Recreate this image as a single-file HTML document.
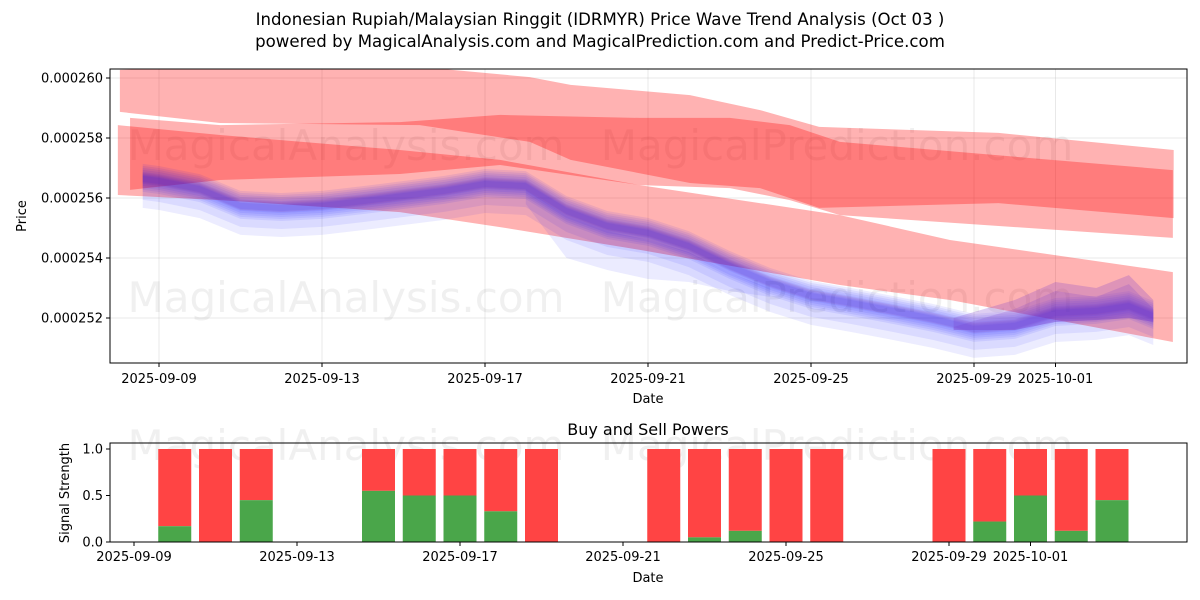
<!DOCTYPE html>
<html><head><meta charset="utf-8"><style>
body{margin:0;background:#fff;}
svg{display:block;font-family:"DejaVu Sans","Liberation Sans",sans-serif;}
</style></head><body>
<svg id="chart" width="1200" height="600" viewBox="0 0 1200 600" xmlns="http://www.w3.org/2000/svg">
<defs>
<clipPath id="clipTop"><rect x="110" y="69" width="1077" height="294"/></clipPath>
<clipPath id="clipBot"><rect x="110" y="443" width="1077" height="99"/></clipPath>
</defs>
<text x="600" y="25" text-anchor="middle" font-size="16.6">Indonesian Rupiah/Malaysian Ringgit (IDRMYR) Price Wave Trend Analysis (Oct 03 )</text>
<text x="600" y="47" text-anchor="middle" font-size="16.6">powered by MagicalAnalysis.com and MagicalPrediction.com and Predict-Price.com</text>
<g id="topPanel"></g>
<g id="botPanel"></g>
</svg>
<script>
const NS="http://www.w3.org/2000/svg";
const r1Days=[-0.96,1.5,6.4,9.1,10.1,13.03,14.75,16.2,20.6,24.9];
const r1Upper=[260.27,260.37,260.37,260.03,259.77,259.43,258.93,258.37,258.17,257.6];
const r1Lower=[258.87,258.5,258.43,257.87,257.27,256.5,256.33,255.67,255.83,255.33];
const r2Days=[-0.71,1.5,5.91,8.37,11.8,14.01,15.48,16.71,24.88];
const r2Upper=[258.67,258.43,258.53,258.77,258.67,258.67,258.43,257.87,256.93];
const r2Lower=[256.27,256.6,256.8,257.1,256.43,256.33,255.93,255.43,254.67];
const r3Days=[-1.01,1.5,5.91,8.37,11.8,16.71,19.41,24.88];
const r3Upper=[258.43,258.1,257.6,257.27,256.43,255.43,254.6,253.53];
const r3Lower=[256.1,255.93,255.53,255.03,254.27,253.1,252.6,251.2];
const blueDays=[-0.4,0,1,2,3,4,5,6,7,8,9,10,11,12,13,14,15,16,17,18,19,20,21,22,23,23.8,24.4];
const blueCenter=[256.67,256.6,256.33,255.77,255.7,255.77,255.93,256.1,256.27,256.5,256.43,255.6,255.1,254.87,254.43,253.77,253.2,252.77,252.53,252.27,252.0,251.67,251.77,252.2,252.27,252.43,252.1];
const lobeDays=[9,10,11,12,13,14,15];
const lobeUpper=[256.3,255.4,254.9,254.6,254.2,253.5,253.0];
const lobeLower=[255.8,254.0,253.6,253.3,253.2,252.9,252.7];
const bumpDays=[19.5,21,22,23,23.8,24.4];
const bumpUpper=[252.0,252.6,253.2,253.0,253.43,252.6];
const bumpLower=[251.6,251.6,251.87,251.93,252.0,251.87];
const priceTicks=[252,254,256,258,260];
const priceTickLabels=["0.000252","0.000254","0.000256","0.000258","0.000260"];
const dateTicks=[0,4,8,12,16,20,22];
const dateTickLabels=["2025-09-09","2025-09-13","2025-09-17","2025-09-21","2025-09-25","2025-09-29","2025-10-01"];
const barDays=[1,2,3,6,7,8,9,10,13,14,15,16,17,20,21,22,23,24];
const buyValues=[0.17,0,0.45,0.55,0.5,0.5,0.33,0,0,0.05,0.12,0,0,0,0.22,0.5,0.12,0.45];
const strengthTicks=[0,0.5,1];
const strengthTickLabels=["0.0","0.5","1.0"];
const xTop=d=>159+d*40.75, yTop=p=>78+(260-p)*30;
const xBot=d=>134+d*40.75, yBot=v=>542-v*93;
function mk(tag,attrs,parent){const e=document.createElementNS(NS,tag);for(const k in attrs)e.setAttribute(k,attrs[k]);parent.appendChild(e);return e;}
const topG=document.getElementById('topPanel'), botG=document.getElementById('botPanel');
priceTicks.forEach((p,i)=>{
  const g=mk('line',{x1:110,x2:1187,y1:yTop(p),y2:yTop(p),stroke:'#b0b0b0','stroke-opacity':0.35,'stroke-width':0.8},topG);
  
  
  mk('line',{x1:106,x2:110,y1:yTop(p),y2:yTop(p),stroke:'#000'},topG);
  const t=mk('text',{x:103,y:yTop(p)+4.5,'text-anchor':'end','font-size':13},topG);t.textContent=priceTickLabels[i];
  
  
});
dateTicks.forEach((d,i)=>{
  const g=mk('line',{x1:xTop(d),x2:xTop(d),y1:69,y2:363,stroke:'#b0b0b0','stroke-opacity':0.35,'stroke-width':0.8},topG);
  
  
  mk('line',{x1:xTop(d),x2:xTop(d),y1:363,y2:367,stroke:'#000'},topG);
  const t=mk('text',{x:xTop(d),y:383,'text-anchor':'middle','font-size':13},topG);t.textContent=dateTickLabels[i];
  
  
});
[["MagicalAnalysis.com",346,160],["MagicalPrediction.com",837,160],["MagicalAnalysis.com",346,312],["MagicalPrediction.com",837,312],["MagicalAnalysis.com",346,460],["MagicalPrediction.com",837,460]].forEach(w=>{
  const t=mk('text',{x:w[1],y:w[2],'text-anchor':'middle','font-size':42,fill:'#808080','fill-opacity':0.12},w[2]>400?botG:topG);t.textContent=w[0];
  
  
});
const plot=mk('g',{'clip-path':'url(#clipTop)'},topG);
function band(days,up,lo,color,op,name){
  let pts=days.map((d,i)=>xTop(d)+','+yTop(up[i]));
  for(let i=days.length-1;i>=0;i--)pts.push(xTop(days[i])+','+yTop(lo[i]));
  const p=mk('polygon',{points:pts.join(' '),fill:color,'fill-opacity':op},plot);
  
  
}
band(r1Days,r1Upper,r1Lower,'#ff0000',0.3,'red-band-upper');
band(r2Days,r2Upper,r2Lower,'#ff0000',0.3,'red-band-middle');
band(r3Days,r3Upper,r3Lower,'#ff0000',0.3,'red-band-lower');
band(lobeDays,lobeUpper,lobeLower,'#0000ff',0.08,'blue-wave-lobe');
const layers=[[6,6],[10,10],[4,14],[14,4],[8,22],[2,30],[3,8],[12,12]];
layers.forEach(L=>{
  band(blueDays,blueCenter.map(c=>c+L[0]/30),blueCenter.map(c=>c-L[1]/30),'#0000ff',0.075,'blue-wave-band');
});
band(blueDays,blueCenter.map(c=>c+5/30),blueCenter.map(c=>c-5/30),'#8030a0',0.15,'purple-wave-core');
band(bumpDays,bumpUpper,bumpLower,'#7a3ccc',0.25,'purple-wave-bump');
band(bumpDays,bumpUpper.map(v=>v-0.3),bumpLower,'#7a3ccc',0.2,'purple-wave-bump');
mk('rect',{x:110,y:69,width:1077,height:294,fill:'none',stroke:'#000','stroke-width':1},topG);
let t=mk('text',{x:648,y:403,'text-anchor':'middle','font-size':13},topG);t.textContent='Date';


t=mk('text',{x:0,y:0,'text-anchor':'middle','font-size':13,transform:'translate(26,216) rotate(-90)'},topG);t.textContent='Price';


t=mk('text',{x:648,y:435,'text-anchor':'middle','font-size':16},botG);t.textContent='Buy and Sell Powers';


const bp=mk('g',{'clip-path':'url(#clipBot)'},botG);
barDays.forEach((d,i)=>{
  const x=xBot(d)-16.5;
  const s=mk('rect',{x:x,y:yBot(1),width:33,height:yBot(buyValues[i])-yBot(1),fill:'#ff4444'},bp);
  
  
  const b=mk('rect',{x:x,y:yBot(buyValues[i]),width:33,height:yBot(0)-yBot(buyValues[i]),fill:'#4aa64a'},bp);
  
  
});
strengthTicks.forEach((v,i)=>{
  mk('line',{x1:106,x2:110,y1:yBot(v),y2:yBot(v),stroke:'#000'},botG);
  const tt=mk('text',{x:103,y:yBot(v)+4.5,'text-anchor':'end','font-size':13},botG);tt.textContent=strengthTickLabels[i];
  
  
});
dateTicks.forEach((d,i)=>{
  mk('line',{x1:xBot(d),x2:xBot(d),y1:542,y2:546,stroke:'#000'},botG);
  const tt=mk('text',{x:xBot(d),y:561,'text-anchor':'middle','font-size':13},botG);tt.textContent=dateTickLabels[i];
  
  
});
mk('rect',{x:110,y:443,width:1077,height:99,fill:'none',stroke:'#000','stroke-width':1},botG);
t=mk('text',{x:648,y:582,'text-anchor':'middle','font-size':13},botG);t.textContent='Date';


t=mk('text',{x:0,y:0,'text-anchor':'middle','font-size':13,transform:'translate(69,493) rotate(-90)'},botG);t.textContent='Signal Strength';


</script>
</body></html>
